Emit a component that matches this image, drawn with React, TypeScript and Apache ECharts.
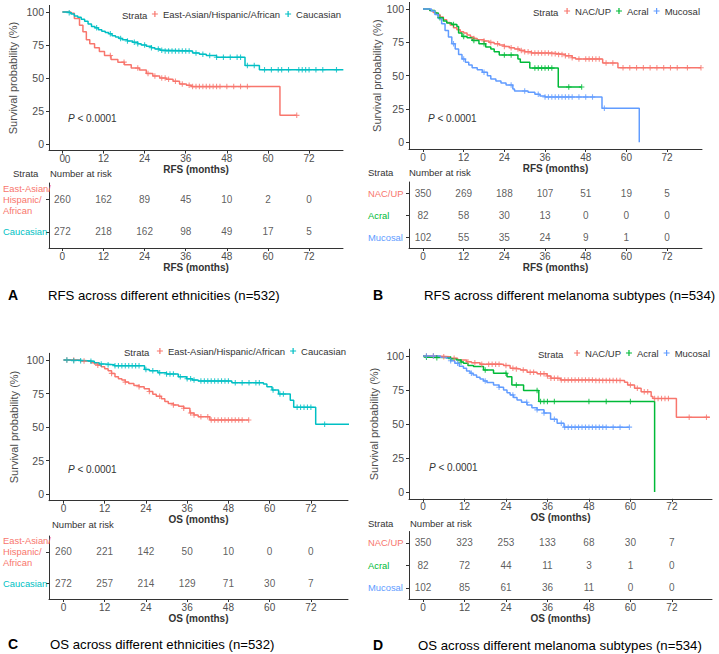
import React, { useEffect, useRef } from "react";
import * as echarts from "echarts";

const TIMES = [0, 12, 24, 36, 48, 60, 72];
const Y_TICKS = [0, 25, 50, 75, 100];

const RED = "#F8766D";
const TEAL = "#00BFC4";
const GREEN = "#00BA38";
const BLUE = "#619CFF";

const ETH = "East-Asian/Hispanic/African";
const CAU = "Caucasian";
const NAC = "NAC/UP";
const ACR = "Acral";
const MUC = "Mucosal";

// ---------- Panel A: RFS by ethnicity ----------
const rfsEthEast: number[][] = [
  [0, 100], [2.5, 99], [3.5, 95], [5, 90], [6, 85], [7, 79], [8, 76], [9.4, 73], [10.8, 70],
  [12.3, 67], [14.2, 64], [16.2, 62], [18.1, 60], [20.1, 57.5], [22.5, 56], [24.5, 53.5],
  [26.4, 51.5], [28.4, 50], [30.3, 49], [32.3, 47.5], [34.2, 45.5], [36.2, 44.5], [37.7, 43.5],
  [63.5, 21.7], [68.4, 21.7],
];
const rfsEthCau: number[][] = [
  [0, 100], [1.5, 99.5], [2.5, 98.5], [3.5, 97], [4.5, 96], [5.5, 94.5], [6.5, 93], [7.5, 91],
  [8.5, 89], [9.5, 88], [10.5, 86.5], [11.5, 85.5], [12.5, 84.5], [13.5, 83.5], [14.5, 82],
  [15.5, 81], [16.5, 80], [17.5, 79], [19, 78], [20.5, 77], [22, 76], [23, 75], [24.5, 74],
  [26, 73], [27, 72], [28.5, 71], [30, 70.5], [38, 69], [40, 68], [42, 67], [45, 65.7],
  [53.3, 59.5], [57.5, 56.2], [82, 56.2],
];
const rfsEthEastCens = [14, 18, 22, 25, 27, 29, 30, 31, 33, 35, 37, 38, 39, 40, 41, 42, 43, 44, 45, 46, 48, 50, 52, 54, 68.4];
const rfsEthCauCens = [2, 10, 14, 17, 19, 21, 22, 24, 26, 28, 29, 30, 31, 32, 33, 34, 35, 36, 37, 39, 41, 43, 45, 47, 49, 51, 52, 54, 56, 59, 61, 63, 64, 66, 69, 70, 71, 72, 74, 76, 80, 82];
const riskA_East = [260, 162, 89, 45, 10, 2, 0];
const riskA_Cau = [272, 218, 162, 98, 49, 17, 5];

// ---------- Panel B: RFS by subtype ----------
const rfsSubNac: number[][] = [
  [0, 100], [2, 99], [3, 97.5], [4, 96], [5, 94], [6, 92], [7, 90], [8, 88], [9, 86], [10, 84.5],
  [11, 83], [12, 82], [13, 80.5], [14, 79], [15, 78], [16, 77], [18, 76], [19.5, 75], [21, 74],
  [22.5, 73], [24, 72], [25.5, 71], [27, 70], [28.5, 69], [30, 68], [32, 67], [38, 66.5],
  [40, 66], [42, 65], [44, 63.5], [45, 62.5], [53, 59.5], [57.5, 56], [82, 56],
];
const rfsSubAcr: number[][] = [
  [0, 100], [2, 99], [3.5, 97], [4.5, 93.5], [6, 91], [7, 89.5], [8.5, 88.5], [10, 87],
  [10.5, 82], [11.5, 79.5], [13, 78.5], [14.5, 76.5], [16.5, 74], [18.5, 71.5], [20, 70],
  [21, 68], [22.5, 65.5], [28, 62.5], [28.7, 60], [31.5, 55.7], [39.9, 41.5], [46.8, 41.5],
];
const rfsSubMuc: number[][] = [
  [0, 100], [2.5, 98.5], [3.5, 96], [4.5, 93], [5.5, 89], [6.5, 84], [7.5, 79], [8.5, 74],
  [9.5, 70], [10.5, 66], [11.5, 62.5], [12.5, 60], [13.5, 58], [14.5, 56], [16, 54.5],
  [17.5, 52.5], [19, 50], [20, 47.5], [21.5, 46], [23, 44.5], [24.5, 43], [26.5, 40],
  [27, 38.5], [31, 37.5], [33, 36], [34.5, 34.8], [36, 34], [52.8, 25.5], [63.8, 0],
];
const rfsSubNacCens = [15, 18, 20, 22, 24, 26, 28, 29, 30, 31, 32, 33, 34, 35, 36, 37, 38, 39, 40, 41, 42, 43, 44, 46, 48, 49, 50, 51, 52, 54, 56, 59, 61, 63, 65, 67, 69, 71, 73, 75, 78, 82];
const rfsSubAcrCens = [5, 9, 12, 15, 18, 24, 26, 33, 34, 35, 36, 37, 38, 43, 46.8];
const rfsSubMucCens = [9, 12, 18, 26, 30, 34, 36, 37, 38, 39, 40, 41, 42, 43, 44, 46, 48, 50, 53.5];
const riskB_Nac = [350, 269, 188, 107, 51, 19, 5];
const riskB_Acr = [82, 58, 30, 13, 0, 0, 0];
const riskB_Muc = [102, 55, 35, 24, 9, 1, 0];

// ---------- Panel C: OS by ethnicity ----------
const osEthEast: number[][] = [
  [0, 100], [5, 99.3], [8, 98], [9, 97], [10, 96], [11, 95], [12, 93.5], [13, 92], [14, 90],
  [15, 87.5], [16, 86], [17, 85], [18, 83.5], [19, 82.5], [20.5, 81], [22, 80], [23.5, 78.5],
  [25, 76.5], [26, 74.5], [27, 73], [28.5, 71], [29.5, 69], [30.5, 67.5], [32, 66.5],
  [33.5, 65.5], [35, 64], [36.8, 60.5], [38, 59], [39.2, 57.7], [42.6, 55.2], [53.9, 55.2],
];
const osEthCau: number[][] = [
  [0, 100], [3, 99.5], [7, 99], [9, 98], [10.4, 97], [12, 96.5], [14.8, 95.8], [23.6, 93],
  [25, 92], [27.5, 90.5], [30, 89.5], [33.4, 87.5], [35.8, 86], [37.5, 85], [39.2, 84.3],
  [49, 83], [58.2, 82], [59.2, 80], [60.7, 77.6], [62.6, 74.6], [66, 70], [67, 64.7],
  [73.4, 52], [83.1, 52],
];
const osEthEastCens = [1, 3, 6, 10, 14, 18, 22, 25, 28, 32, 35, 37, 38, 40, 42, 43, 44, 45, 46, 47, 48, 49, 50, 51, 52, 53.9];
const osEthCauCens = [1, 3, 5, 8, 11, 13, 15, 16, 17, 18, 19, 20, 21, 22, 24, 26, 28, 30, 31, 32, 34, 36, 37, 38, 40, 41, 42, 43, 44, 45, 46, 47, 48, 50, 52, 54, 56, 57, 61, 63, 64, 68, 69, 70, 71, 72, 76, 83];
const riskC_East = [260, 221, 142, 50, 10, 0, 0];
const riskC_Cau = [272, 257, 214, 129, 71, 30, 7];

// ---------- Panel D: OS by subtype ----------
const osSubNac: number[][] = [
  [0, 100], [4, 99.5], [7.8, 98.3], [10, 97], [12.6, 95.8], [14, 95], [16.5, 94], [23.3, 93],
  [25.2, 91], [27, 90.5], [28.2, 89.7], [30.1, 88], [33, 87], [35.9, 85.3], [37, 83.6],
  [39.8, 82.4], [49.5, 82], [58.3, 80.7], [59.2, 78.7], [61.2, 76.3], [63.1, 73.8], [66, 70.2],
  [66.5, 68.7], [73.3, 55], [83, 55],
];
const osSubAcr: number[][] = [
  [0, 100], [1, 99], [3.9, 98.8], [8, 98], [9.7, 97], [11, 95.5], [11.7, 94.6], [13, 93],
  [14.6, 92.2], [17.5, 89.7], [20.4, 87.3], [24.3, 84.8], [25.7, 78.7], [29.1, 74.6],
  [33.5, 66.5], [67, 0],
];
const osSubMuc: number[][] = [
  [0, 100], [5, 99], [6.8, 98.3], [8, 96.5], [9.2, 94.6], [10.5, 92.5], [11.7, 91], [12.6, 89],
  [13.6, 87.3], [14.5, 86], [15.5, 84.4], [16.5, 83], [17.5, 81.7], [18.5, 80.5], [20.4, 78.7],
  [22, 77], [23.3, 75], [24.3, 73], [25.2, 71.4], [26.2, 69.5], [27.2, 67.7], [28.5, 66],
  [30.1, 64], [31.5, 62], [33, 60.4], [35, 58], [36.9, 53.5], [38.8, 50.6], [40.8, 47.7],
  [59.7, 47.7],
];
const osSubNacCens = [1, 3, 6, 9, 13, 15, 17, 19, 20, 21, 22, 24, 26, 27, 29, 31, 32, 34, 35, 36, 37, 38, 39, 40, 41, 42, 43, 44, 45, 46, 47, 48, 49, 50, 51, 52, 53, 54, 55, 56, 57, 60, 62, 64, 65, 67, 68, 69, 70, 71, 77, 82];
const osSubAcrCens = [1, 4, 8, 11, 18, 24, 27, 33, 34, 35, 36, 38, 48, 53, 60];
const osSubMucCens = [1, 3, 8, 10, 14, 18, 22, 26, 30, 33, 35, 38, 40, 41, 42, 43, 44, 45, 46, 47, 48, 49, 50, 51, 52, 53, 55, 57, 59.7];
const riskD_Nac = [350, 323, 253, 133, 68, 30, 7];
const riskD_Acr = [82, 72, 44, 11, 3, 1, 0];
const riskD_Muc = [102, 85, 61, 36, 11, 0, 0];

const PLUS = "path://M4,0H6V4H10V6H6V10H4V6H0V4H4Z";
const FONT = "'Liberation Sans', Arial, sans-serif";
const TXT = "#4D4D4D";
const DARK = "#333333";

type Group = { name: string; color: string; curve: number[][]; cens: number[]; risk: number[] };
type Panel = {
  km: { left: number; top: number; width: number; height: number };
  risk: { top: number; height: number; labelMargin: number };
  xr: [number, number];
  xname: string;
  yNameGap: number;
  wrap: boolean;
  groups: Group[];
};

const panels: Panel[] = [
  {
    km: { left: 49, top: 5.4, width: 294, height: 145.2 },
    risk: { top: 183, height: 65, labelMargin: 46 },
    xr: [-3.9, 81.9], xname: "RFS (months)", yNameGap: 31, wrap: true,
    groups: [
      { name: ETH, color: RED, curve: rfsEthEast, cens: rfsEthEastCens, risk: riskA_East },
      { name: CAU, color: TEAL, curve: rfsEthCau, cens: rfsEthCauCens, risk: riskA_Cau },
    ],
  },
  {
    km: { left: 409, top: 2.4, width: 293, height: 146.6 },
    risk: { top: 182, height: 66, labelMargin: 41 },
    xr: [-4.13, 82.3], xname: "RFS (months)", yNameGap: 25, wrap: false,
    groups: [
      { name: NAC, color: RED, curve: rfsSubNac, cens: rfsSubNacCens, risk: riskB_Nac },
      { name: ACR, color: GREEN, curve: rfsSubAcr, cens: rfsSubAcrCens, risk: riskB_Acr },
      { name: MUC, color: BLUE, curve: rfsSubMuc, cens: rfsSubMucCens, risk: riskB_Muc },
    ],
  },
  {
    km: { left: 49, top: 353.3, width: 299, height: 147.4 },
    risk: { top: 536, height: 63, labelMargin: 46 },
    xr: [-4.2, 82.8], xname: "OS (months)", yNameGap: 30, wrap: true,
    groups: [
      { name: ETH, color: RED, curve: osEthEast, cens: osEthEastCens, risk: riskC_East },
      { name: CAU, color: TEAL, curve: osEthCau, cens: osEthCauCens, risk: riskC_Cau },
    ],
  },
  {
    km: { left: 409, top: 349.2, width: 303, height: 149.6 },
    risk: { top: 531.5, height: 67.5, labelMargin: 41 },
    xr: [-4.05, 83.6], xname: "OS (months)", yNameGap: 30, wrap: false,
    groups: [
      { name: NAC, color: RED, curve: osSubNac, cens: osSubNacCens, risk: riskD_Nac },
      { name: ACR, color: GREEN, curve: osSubAcr, cens: osSubAcrCens, risk: riskD_Acr },
      { name: MUC, color: BLUE, curve: osSubMuc, cens: osSubMucCens, risk: riskD_Muc },
    ],
  },
];

const legends = [
  { right: 378, top: 9, strataX: 122, strataY: 15 },
  { right: 19, top: 6, strataX: 533, strataY: 12 },
  { right: 373, top: 346, strataX: 124, strataY: 352 },
  { right: 9, top: 348, strataX: 538, strataY: 354 },
];

const pvals = [
  { x: 68, y: 118 },
  { x: 428, y: 118 },
  { x: 68, y: 469 },
  { x: 429, y: 467 },
];

const riskTitles = [
  { nx: 50, ny: 173, sx: 13, sy: 173, strata: true },
  { nx: 409, ny: 172, sx: 368, sy: 172, strata: true },
  { nx: 52, ny: 524, sx: 0, sy: 0, strata: false },
  { nx: 410, ny: 523, sx: 368, sy: 523, strata: true },
];

const captions = [
  { letter: "A", lx: 8, tx: 48, y: 295, text: "RFS across different ethnicities (n=532)" },
  { letter: "B", lx: 373, tx: 424, y: 295, text: "RFS across different melanoma subtypes (n=534)" },
  { letter: "C", lx: 8, tx: 50, y: 644, text: "OS across different ethnicities (n=532)" },
  { letter: "D", lx: 373, tx: 418, y: 645, text: "OS across different melanoma subtypes (n=534)" },
];

function stepAt(curve: number[][], t: number): number {
  let v = curve[0][1];
  for (const [x, y] of curve) {
    if (x <= t) v = y;
    else break;
  }
  return v;
}

function buildOption() {
  const grid: any[] = [];
  const xAxis: any[] = [];
  const yAxis: any[] = [];
  const series: any[] = [];
  const legend: any[] = [];
  const graphic: any[] = [];

  const xAxisBase = (p: Panel, gi: number) => ({
    type: "value",
    gridIndex: gi,
    min: p.xr[0],
    max: p.xr[1],
    splitLine: { show: false },
    axisLine: { show: true, onZero: false, lineStyle: { color: DARK, width: 1 } },
    axisTick: { show: true, length: 3, customValues: TIMES, lineStyle: { color: DARK } },
    axisLabel: { customValues: TIMES, fontSize: 10, color: TXT, margin: 3, fontFamily: FONT },
    name: p.xname,
    nameLocation: "middle",
    nameGap: 14,
    nameTextStyle: { fontWeight: "bold", fontSize: 10, color: DARK, fontFamily: FONT },
  });

  panels.forEach((p, i) => {
    const kmIdx = i * 2;
    const rkIdx = i * 2 + 1;
    grid.push({ left: p.km.left, top: p.km.top, width: p.km.width, height: p.km.height, containLabel: false });
    grid.push({ left: p.km.left, top: p.risk.top, width: p.km.width, height: p.risk.height, containLabel: false });

    xAxis.push(xAxisBase(p, kmIdx));
    xAxis.push(xAxisBase(p, rkIdx));

    yAxis.push({
      type: "value",
      gridIndex: kmIdx,
      min: -5,
      max: 105,
      splitLine: { show: false },
      axisLine: { show: true, onZero: false, lineStyle: { color: DARK, width: 1 } },
      axisTick: { show: true, length: 3, customValues: Y_TICKS, lineStyle: { color: DARK } },
      axisLabel: { customValues: Y_TICKS, fontSize: 10.5, color: TXT, margin: 5, fontFamily: FONT },
      name: "Survival probability (%)",
      nameLocation: "middle",
      nameGap: p.yNameGap,
      nameTextStyle: { fontSize: 11, color: TXT, fontFamily: FONT },
    });

    const names = p.groups.map((g) => g.name);
    const colors = p.groups.map((g) => g.color);
    yAxis.push({
      type: "category",
      gridIndex: rkIdx,
      data: names,
      inverse: true,
      axisLine: { show: true, onZero: false, lineStyle: { color: DARK, width: 1 } },
      axisTick: { show: true, length: 3, alignWithLabel: true, lineStyle: { color: DARK } },
      axisLabel: {
        align: "left",
        margin: p.risk.labelMargin,
        fontSize: 9.4,
        lineHeight: 11,
        fontFamily: FONT,
        color: (_v: any, idx: number) => colors[idx],
        formatter: (v: string) => (p.wrap ? v.split("/").join("/\n") : v),
      },
      splitLine: { show: false },
    });

    p.groups.forEach((g) => {
      series.push({
        name: g.name,
        type: "line",
        step: "end",
        xAxisIndex: kmIdx,
        yAxisIndex: kmIdx,
        data: g.curve,
        showSymbol: false,
        symbol: "none",
        lineStyle: { color: g.color, width: 1.5 },
        itemStyle: { color: g.color },
        silent: true,
        z: 2,
      });
      series.push({
        name: g.name,
        type: "scatter",
        xAxisIndex: kmIdx,
        yAxisIndex: kmIdx,
        data: g.cens.map((t) => [t, stepAt(g.curve, t)]),
        symbol: PLUS,
        symbolSize: 5.5,
        itemStyle: { color: g.color },
        silent: true,
        z: 3,
      });
    });

    const riskData: any[] = [];
    p.groups.forEach((g) => {
      g.risk.forEach((n, k) => riskData.push([TIMES[k], g.name, n]));
    });
    series.push({
      name: "risk" + i,
      type: "scatter",
      xAxisIndex: rkIdx,
      yAxisIndex: rkIdx,
      data: riskData,
      symbolSize: 1,
      itemStyle: { color: "transparent" },
      label: {
        show: true,
        position: "inside",
        formatter: (prm: any) => String(prm.value[2]),
        fontSize: 10,
        color: DARK,
        fontFamily: FONT,
      },
      silent: true,
    });

    const lg = legends[i];
    legend.push({
      right: lg.right,
      top: lg.top,
      data: names,
      icon: PLUS,
      itemWidth: 6,
      itemHeight: 6,
      itemGap: 5,
      selectedMode: false,
      padding: 0,
      textStyle: { fontSize: 9.5, color: DARK, fontFamily: FONT },
    });
    graphic.push({
      type: "text",
      x: lg.strataX,
      y: lg.strataY,
      style: { text: "Strata", fontSize: 9.5, fill: DARK, fontFamily: FONT, verticalAlign: "middle" },
    });

    const pv = pvals[i];
    graphic.push({
      type: "text",
      x: pv.x,
      y: pv.y,
      style: {
        text: "{i|P} < 0.0001",
        fontSize: 10,
        fill: DARK,
        fontFamily: FONT,
        verticalAlign: "middle",
        rich: { i: { fontStyle: "italic", fontSize: 10, fill: DARK, fontFamily: FONT } },
      },
    });

    const rt = riskTitles[i];
    graphic.push({
      type: "text",
      x: rt.nx,
      y: rt.ny,
      style: { text: "Number at risk", fontSize: 9.5, fill: DARK, fontFamily: FONT, verticalAlign: "middle" },
    });
    if (rt.strata) {
      graphic.push({
        type: "text",
        x: rt.sx,
        y: rt.sy,
        style: { text: "Strata", fontSize: 9.5, fill: DARK, fontFamily: FONT, verticalAlign: "middle" },
      });
    }

    const cp = captions[i];
    graphic.push({
      type: "text",
      x: cp.lx,
      y: cp.y,
      style: { text: cp.letter, fontSize: 14, fontWeight: "bold", fill: "#000", fontFamily: FONT, verticalAlign: "middle" },
    });
    graphic.push({
      type: "text",
      x: cp.tx,
      y: cp.y,
      style: { text: cp.text, fontSize: 13.2, fill: "#000", fontFamily: FONT, verticalAlign: "middle" },
    });
  });

  // stray overlapping "0" under the first panel's x-axis origin
  graphic.push({
    type: "text",
    x: 67.5,
    y: 159.5,
    style: { text: "0", fontSize: 10, fill: TXT, fontFamily: FONT, align: "center", verticalAlign: "middle" },
  });

  return {
    animation: false,
    backgroundColor: "#ffffff",
    textStyle: { fontFamily: FONT },
    grid,
    xAxis,
    yAxis,
    series,
    legend,
    graphic,
  };
}

export default function App() {
  const ref = useRef<HTMLDivElement>(null);
  useEffect(() => {
    if (!ref.current) return;
    const chart = echarts.init(ref.current, undefined, { renderer: "svg" });
    chart.setOption(buildOption() as any);
    return () => chart.dispose();
  }, []);
  return (
    <div
      ref={ref}
      style={{ position: "absolute", left: 0, top: 0, width: 719, height: 654, background: "#fff" }}
    />
  );
}
